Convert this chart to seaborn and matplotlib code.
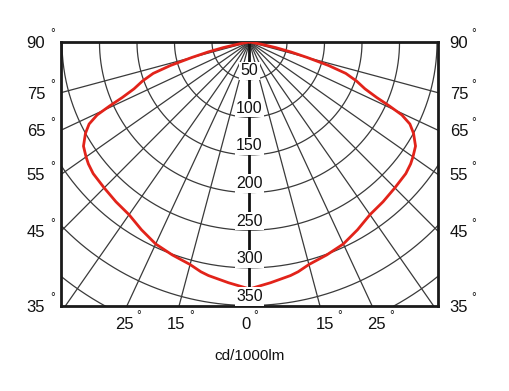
import numpy as np
import pandas as pd
import matplotlib
matplotlib.use("Agg")
import matplotlib.pyplot as plt
import seaborn as sns

# ---- data (cd/1000lm vs angle from nadir, degrees; symmetric curve) ----
curve_angles = [0, 5, 10, 12, 15, 20, 25, 30, 35, 40, 45, 50, 53, 55, 58, 61, 63,
                64.5, 65.5, 66.5, 68, 70, 72, 73.5, 75, 76.5, 78, 79.5, 81]
curve_values = [328, 321, 315, 312, 306, 301, 296, 288, 280, 277, 274, 272, 269, 266,
                261, 250, 240, 225, 205, 185, 166, 152, 135, 110, 80, 57, 36, 16, 0]
ring_values = [50, 100, 150, 200, 250, 300, 350, 400]
ring_labels = ["50", "100", "150", "200", "250", "300", "350"]
spoke_angles = [15, 25, 35, 45, 55, 65, 75]
side_labels = ["90", "75", "65", "55", "45", "35"]
bottom_labels = ["25", "15", "0", "15", "25"]
unit_label = "cd/1000lm"

sns.set_theme(style="white")
plt.rcParams["font.family"] = ["Liberation Sans", "DejaVu Sans"]

W, H = 509, 391
fig = plt.figure(figsize=(W / 100, H / 100), dpi=100)
fig.patch.set_facecolor("white")
left, right, top, bottom = 61, 438, 42, 305.5
ax = fig.add_axes([left / W, 1 - bottom / H, (right - left) / W, (bottom - top) / H])
XMAX = 251.3
YMIN = -350
ax.set_xlim(-XMAX, XMAX)
ax.set_ylim(YMIN, 0)
ax.set_xticks([])
ax.set_yticks([])
for s in ax.spines.values():
    s.set_linewidth(2.0)
    s.set_color("#1a1a1a")

grid_c = "#3a3a3a"
t = np.linspace(-np.pi / 2, np.pi / 2, 361)
for r in ring_values:
    ax.plot(r * np.sin(t), -r * np.cos(t), color=grid_c, lw=0.9, zorder=1)
for a in spoke_angles:
    for sgn in (-1, 1):
        th = np.radians(a)
        ax.plot([0, sgn * 1000 * np.sin(th)], [0, -1000 * np.cos(th)],
                color=grid_c, lw=0.9, zorder=1)

# center axis
ax.plot([0, 0], [0, YMIN], color="#111111", lw=2.0, zorder=2)

# red curve
ang = np.array(curve_angles, dtype=float)
val = np.array(curve_values, dtype=float)
full_ang = np.concatenate([-ang[::-1], ang[1:]])
full_val = np.concatenate([val[::-1], val[1:]])
df = pd.DataFrame({"x": full_val * np.sin(np.radians(full_ang)),
                   "y": -full_val * np.cos(np.radians(full_ang))})
sns.lineplot(data=df, x="x", y="y", sort=False, estimator=None, ax=ax,
             color="#e2231a", lw=2.0, zorder=4)
ax.set_xlabel("")
ax.set_ylabel("")

# ring labels on the center axis
for r, lab in zip(ring_values, ring_labels):
    ax.text(0, -(r - 12), lab, ha="center", va="center", fontsize=11.5, color="#111111",
            zorder=5, bbox=dict(boxstyle="square,pad=0.1", fc="white", ec="none"))

# side labels
px = 0.75  # pixels per cd
for lab in side_labels:
    a = float(lab)
    if a >= 90:
        y = 0
    else:
        y = max(-XMAX / np.tan(np.radians(a)), YMIN)
    y = y - 1.5 / px
    for sgn in (-1, 1):
        if sgn < 0:
            xn = -XMAX - 25 / px
            xd = -XMAX - 8 / px
        else:
            xn = XMAX + 21 / px
            xd = XMAX + 36 / px
        ax.text(xn, y, lab, ha="center", va="center", fontsize=12, color="#111111",
                clip_on=False)
        ax.text(xd, y + 9 / px, "°", ha="center", va="center", fontsize=8.5,
                color="#111111", clip_on=False)

# bottom labels
bot_angles = [-25, -15, 0, 15, 25]
for a, lab in zip(bot_angles, bottom_labels):
    xl = -YMIN * np.tan(np.radians(a))
    if a < 0:
        xn = xl - 3 / px
    elif a > 0:
        xn = xl + 5 / px
    else:
        xn = xl - 3 / px
    dx = (9 if lab == "0" else 15) / px
    yb = YMIN - 18.5 / px
    ax.text(xn, yb, lab, ha="center", va="center", fontsize=12, color="#111111",
            clip_on=False)
    ax.text(xn + dx, yb + 8 / px, "°", ha="center", va="center", fontsize=8.5,
            color="#111111", clip_on=False)

fig.text(250 / W, 1 - 356 / H, unit_label, ha="center", va="center", fontsize=11,
         color="#111111")

fig.savefig("out.png", dpi=100, facecolor="white")
